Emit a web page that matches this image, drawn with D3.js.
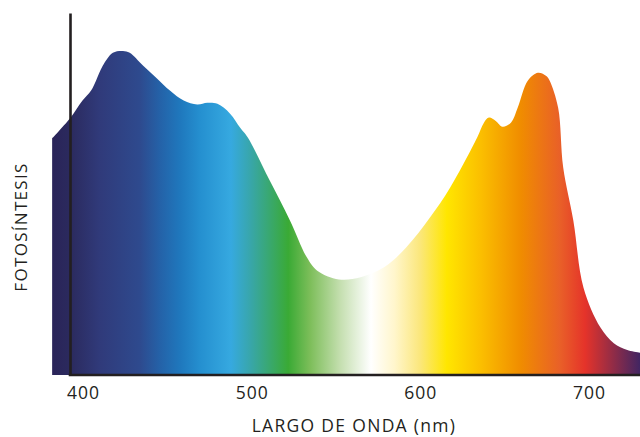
<!DOCTYPE html>
<html>
<head>
<meta charset="utf-8">
<script src="https://cdn.jsdelivr.net/npm/d3@7"></script>
<style>
  body { margin: 0; background: #fff; }
  text { font-family: "Open Sans", sans-serif; fill: #231f20; }
</style>
</head>
<body>
<div id="chart"></div>
<script>
// photosynthesis action spectrum
const wavelengths = [382, 393, 400, 405, 408, 412, 418, 424, 428, 436, 444, 452, 460, 468, 474, 480,
    487.5, 493.5, 498, 511, 523, 533, 539, 552, 565, 579, 592, 606, 618, 634, 638, 641, 645, 649, 654, 658,
    664, 670, 675, 677, 682, 685, 691, 697, 707, 715, 723, 731];
const photosynthesis = [65.3, 71.1, 75.8, 78.5, 81.3, 85.4, 89.0, 89.5, 89.0, 85.4, 82.0, 78.5, 75.8,
    74.7, 75.2, 74.9, 72.2, 68.3, 65.6, 53.7, 42.7, 32.5, 28.9, 26.4, 27.0, 29.8, 35.3, 43.5, 51.8, 65.6,
    69.7, 71.1, 70.2, 68.6, 69.7, 73.8, 81.3, 83.5, 82.6, 81.3, 73.8, 57.3, 42.7, 24.2, 13.2, 8.8, 6.9, 6.1];

// spectrum colours along the wavelength axis
const gradientNm = [382, 393, 410, 434, 446, 458, 470, 488, 500, 522, 535, 553, 571, 585, 600, 616,
    636, 660, 683, 698, 731];
const gradientColors = ["#2a2459", "#2b2a5e", "#303a7a", "#2e4a8e", "#2462a8", "#1f78bd", "#2590d0",
    "#36a9e0", "#38a6a8", "#3aaa35", "#7dbe5a", "#c5dfb0", "#ffffff", "#fff6cc", "#fbe77c", "#ffe600",
    "#fbbf00", "#f08c00", "#e96028", "#e5332a", "#3f2563"];

const xTicks = [400, 500, 600, 700];

const width = 640, height = 437;
const axisLeftX = 70, baseY = 375, topY = 13;

const x = d3.scaleLinear().domain([400, 700]).range([82.5, 588.5]);
const y = d3.scaleLinear().domain([0, 100]).range([baseY, topY]);

const svg = d3.select("#chart").append("svg")
    .attr("width", width)
    .attr("height", height);

const grad = svg.append("defs").append("linearGradient")
    .attr("id", "spectrum")
    .attr("gradientUnits", "userSpaceOnUse")
    .attr("x1", x(gradientNm[0])).attr("x2", x(gradientNm[gradientNm.length - 1]))
    .attr("y1", 0).attr("y2", 0);

const g0 = gradientNm[0], g1 = gradientNm[gradientNm.length - 1];
grad.selectAll("stop")
    .data(gradientNm)
    .enter().append("stop")
    .attr("offset", d => (d - g0) / (g1 - g0))
    .attr("stop-color", (d, i) => gradientColors[i]);

const data = wavelengths.map((w, i) => ({ w: w, v: photosynthesis[i] }));

const area = d3.area()
    .x(d => x(d.w))
    .y0(y(0))
    .y1(d => y(d.v))
    .curve(d3.curveCatmullRom.alpha(0.5));

svg.append("path")
    .datum(data)
    .attr("d", area)
    .attr("fill", "url(#spectrum)");

// y axis: line only
svg.append("g")
    .attr("transform", `translate(${axisLeftX},0)`)
    .call(d3.axisLeft(y).tickValues([]).tickSize(0).tickSizeOuter(0))
    .select(".domain")
    .attr("stroke", "#231f20")
    .attr("stroke-width", 2.6);

// x axis
const xAxis = svg.append("g")
    .attr("transform", `translate(0,${baseY})`)
    .call(d3.axisBottom(x).tickValues(xTicks).tickSize(0).tickPadding(12));
xAxis.select(".domain").remove();
xAxis.selectAll("text")
    .style("font-size", "17.5px")
    .style("letter-spacing", "1px")
    .attr("dx", "0.5px")
    .attr("fill", "#231f20");

svg.append("line")
    .attr("x1", axisLeftX - 1.3).attr("x2", width)
    .attr("y1", baseY).attr("y2", baseY)
    .attr("stroke", "#231f20")
    .attr("stroke-width", 2.6);

svg.append("text")
    .attr("x", 354)
    .attr("y", 432)
    .attr("text-anchor", "middle")
    .style("font-size", "17.5px")
    .style("letter-spacing", "1.3px")
    .text("LARGO DE ONDA (nm)");

svg.append("text")
    .attr("transform", "translate(27,227) rotate(-90)")
    .attr("text-anchor", "middle")
    .style("font-size", "17px")
    .style("letter-spacing", "1.3px")
    .text("FOTOSÍNTESIS");
</script>
</body>
</html>
